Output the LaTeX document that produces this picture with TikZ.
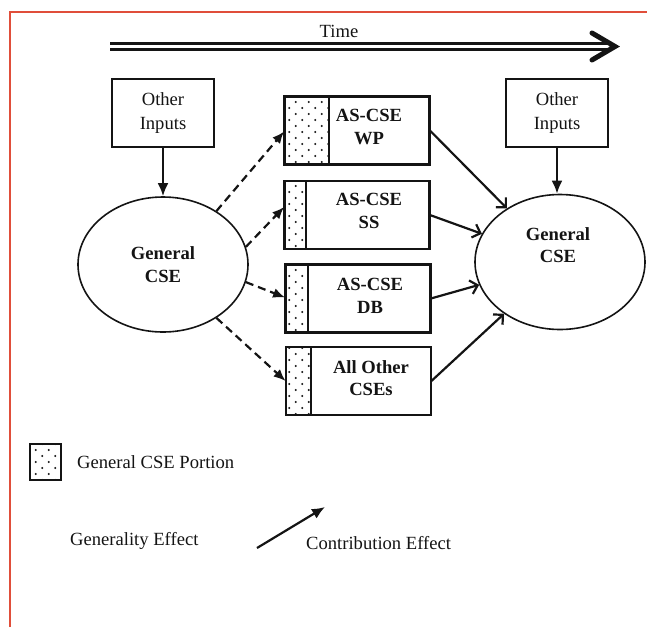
\documentclass[tikz,border=0pt]{standalone}
\usepackage{fontspec}
\setmainfont{Liberation Serif}
\usetikzlibrary{arrows.meta,shapes.geometric,patterns}

% staggered dot fill for the general portion of each box
\pgfdeclarepatternformonly{stagdots}{\pgfpoint{-1pt}{-1pt}}{\pgfpoint{14pt}{13pt}}{\pgfpoint{13pt}{12pt}}{%
  \pgfpathcircle{\pgfpoint{3.25pt}{3pt}}{1.05pt}%
  \pgfpathcircle{\pgfpoint{9.75pt}{9pt}}{1.05pt}%
  \pgfusepath{fill}}

\definecolor{framered}{RGB}{224,78,58}
\definecolor{ink}{RGB}{20,20,20}

\tikzset{
  txt/.style={font=\fontsize{18.6}{23.5}\selectfont, inner sep=0pt, align=center, text=ink},
  btxt/.style={txt, font=\bfseries\fontsize{18.6}{22.5}\selectfont},
  inbox/.style={draw=ink, line width=1.8pt, minimum width=102pt, minimum height=68pt,
    inner sep=0pt, txt},
  cse/.style={draw=ink, ellipse, line width=1.6pt, minimum width=170pt, minimum height=135pt,
    inner sep=0pt, btxt},
  asbox/.style={draw=ink, line width=1.8pt, minimum width=144pt, minimum height=67pt, inner sep=0pt},
  dotfill/.style={pattern=stagdots, pattern color=ink},
  divider/.style={draw=ink, line width=1.8pt},
  feed/.style={draw=ink, line width=2.2pt, -{Latex[length=13pt,width=11pt]}},
  genarrow/.style={draw=ink, line width=2.2pt, dash pattern=on 8pt off 5pt,
    -{Latex[length=12pt,width=10pt]}},
  contarrow/.style={draw=ink, line width=2.2pt, -{Straight Barb[length=7pt,width=14pt,line width=2.2pt]}},
}

\begin{document}
\begin{tikzpicture}[x=1pt,y=-1pt]
\useasboundingbox (0,0) rectangle (647,627);

% page frame
\draw[framered, line width=1.6pt] (10,627) |- (647,12);

% time axis
\node[txt] (time) at (339,31) {Time};
\coordinate (t0) at (110,46.5);
\coordinate (t1) at (609,46.5);
\coordinate (ttop) at (592,33);
\coordinate (ttip) at (615,46.5);
\coordinate (tbot) at (592,60);
\draw[ink, line width=3pt, double=white, double distance=2.2pt] (t0) -- (t1);
\draw[ink, line width=5pt, line cap=round, line join=miter] (ttop) -- (ttip) -- (tbot);

% outer inputs and the two general CSE states
\node[inbox] (oiL) at (163,113) {Other\\Inputs};
\node[inbox] (oiR) at (557,113) {Other\\Inputs};
\node[cse] (L) at (163,264.5) {General\\CSE};
\node[cse] (R) at (560,262) {};
\node[btxt] (Rtxt) at (558,245) {General\\CSE};

% domain-specific boxes
\node[asbox] (wp) at (357,130.5) {};
\node[asbox] (ss) at (357,215) {};
\node[asbox] (db) at (358,298.5) {};
\node[asbox] (ao) at (358.5,381) {};

\fill[dotfill] (wp.north west) rectangle ([xshift=45pt]wp.south west);
\draw[divider] ([xshift=45pt]wp.north west) -- ([xshift=45pt]wp.south west);
\fill[dotfill] (ss.north west) rectangle ([xshift=22pt]ss.south west);
\draw[divider] ([xshift=22pt]ss.north west) -- ([xshift=22pt]ss.south west);
\fill[dotfill] (db.north west) rectangle ([xshift=23pt]db.south west);
\draw[divider] ([xshift=23pt]db.north west) -- ([xshift=23pt]db.south west);
\fill[dotfill] (ao.north west) rectangle ([xshift=25pt]ao.south west);
\draw[divider] ([xshift=25pt]ao.north west) -- ([xshift=25pt]ao.south west);
\draw[ink, line width=1.8pt] (wp.north west) rectangle (wp.south east);
\draw[ink, line width=1.8pt] (ss.north west) rectangle (ss.south east);
\draw[ink, line width=1.8pt] (db.north west) rectangle (db.south east);
\draw[ink, line width=1.8pt] (ao.north west) rectangle (ao.south east);

\node[btxt] (wpt) at (369,127) {AS-CSE\\WP};
\node[btxt] (sst) at (369,211) {AS-CSE\\SS};
\node[btxt] (dbt) at (370,296) {AS-CSE\\DB};
\node[btxt] (aot) at (371,378) {All Other\\CSEs};

% inputs feeding the general CSE
\draw[feed] (oiL) -- (L);
\draw[feed] (oiR) -- (oiR |- R.north);

% generality effect
\draw[genarrow] (L.45) -- ([yshift=-1pt]wp.west);
\draw[genarrow] (L.12) -- ([yshift=8pt]ss.west);
\draw[genarrow] (L.-12) -- ([yshift=1pt]db.west);
\draw[genarrow] (L.-45) -- (ao.west);

% contribution effect
\draw[contarrow] (wp.east) -- (R);
\draw[contarrow] (ss.east) -- (R);
\draw[contarrow] (db.east) -- (R);
\draw[contarrow] (ao.east) -- (R);

% legend
\node[draw=ink, line width=1.8pt, minimum width=31pt, minimum height=36pt, inner sep=0pt,
  dotfill] (leg) at (45.5,462) {};
\node[txt, anchor=west] (legt) at (77,462) {General CSE Portion};
\node[txt, anchor=west] (gent) at (70,541) {Generality Effect};
\coordinate (ca) at (257,548);
\coordinate (cb) at (325,507);
\draw[draw=ink, line width=2.2pt, -{Latex[length=13pt,width=11pt]}] (ca) -- (cb);
\node[txt, anchor=west] (cont) at (306,543) {Contribution Effect};
\end{tikzpicture}
\end{document}
